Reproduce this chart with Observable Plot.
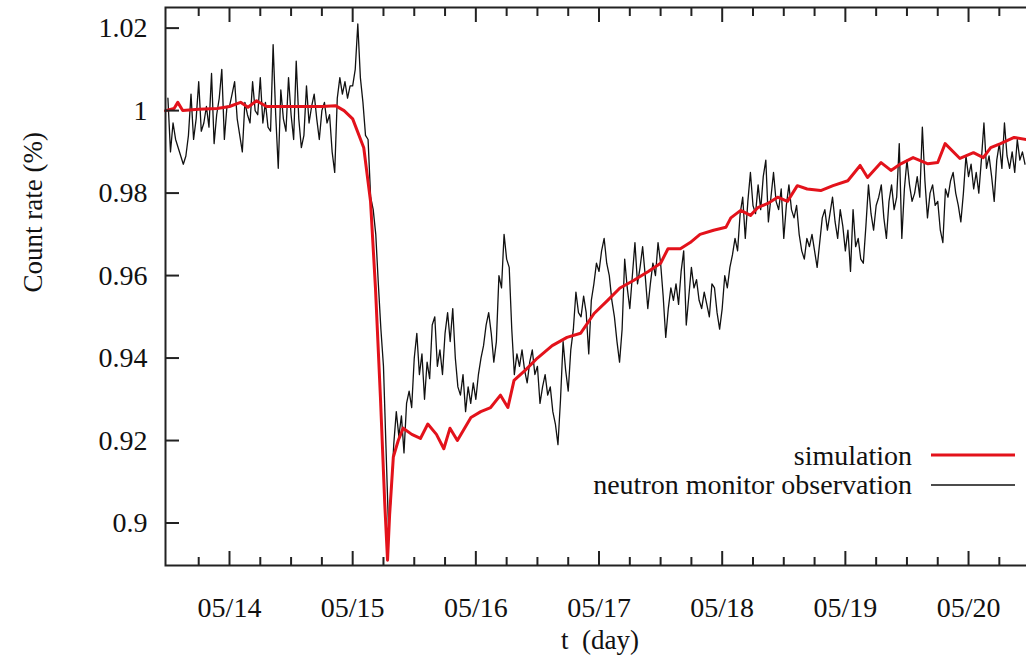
<!DOCTYPE html>
<html><head><meta charset="utf-8">
<script src="https://cdn.jsdelivr.net/npm/d3@7"></script>
<script src="https://cdn.jsdelivr.net/npm/@observablehq/plot@0.6"></script>
<style>
html,body{margin:0;padding:0;background:#fff;overflow:hidden;}
#wrap{position:relative;width:1026px;height:655px;overflow:hidden;}
#legend{position:absolute;left:0;top:0;pointer-events:none;}
</style></head><body><div id="wrap"></div>
<script>
// Observation: 30-minute samples, each array starts at the given day
const obsStep = 1 / 48;
const obs13 = [1.003, 0.990, 0.997, 0.993, 0.991, 0.989, 0.987, 0.989, 0.994, 1.004, 0.993, 0.998, 1.007, 0.995, 0.997, 1.001, 0.996, 1.009, 0.992, 0.999, 1.003, 1.010, 0.993, 1.001];
const obs14 = [1.001, 1.004, 1.007, 0.998, 0.994, 0.990, 1.002, 0.999, 0.997, 1.007, 1.000, 0.999, 1.008, 0.997, 1.002, 0.996, 0.995, 1.016, 0.999, 0.986, 1.005, 0.998, 0.995, 1.008, 0.999, 0.993, 1.012, 0.998, 0.991, 0.994, 1.006, 0.997, 1.001, 1.004, 0.998, 0.993, 1.000, 1.002, 0.997, 0.999, 0.990, 0.985, 1.003, 1.008, 1.004, 1.007, 1.003, 1.006];
const obs15 = [1.006, 1.010, 1.021, 1.008, 1.002, 0.994, 0.993, 0.979, 0.976, 0.970, 0.958, 0.947, 0.938, 0.918, 0.898, 0.907, 0.919, 0.927, 0.921, 0.926, 0.917, 0.929, 0.932, 0.928, 0.940, 0.946, 0.936, 0.941, 0.930, 0.939, 0.935, 0.948, 0.950, 0.938, 0.942, 0.936, 0.946, 0.951, 0.944, 0.952, 0.940, 0.933, 0.931, 0.936, 0.927, 0.933, 0.929, 0.934];
const obs16 = [0.930, 0.936, 0.940, 0.943, 0.948, 0.951, 0.946, 0.939, 0.944, 0.960, 0.957, 0.970, 0.964, 0.962, 0.947, 0.936, 0.941, 0.938, 0.942, 0.937, 0.934, 0.939, 0.942, 0.936, 0.938, 0.929, 0.933, 0.936, 0.931, 0.933, 0.927, 0.924, 0.919, 0.930, 0.944, 0.937, 0.932, 0.942, 0.947, 0.956, 0.951, 0.950, 0.955, 0.951, 0.941, 0.954, 0.958, 0.963];
const obs17 = [0.961, 0.966, 0.969, 0.963, 0.960, 0.954, 0.950, 0.944, 0.939, 0.947, 0.964, 0.957, 0.952, 0.960, 0.968, 0.958, 0.962, 0.967, 0.960, 0.952, 0.958, 0.963, 0.960, 0.968, 0.963, 0.955, 0.945, 0.952, 0.957, 0.954, 0.958, 0.953, 0.961, 0.966, 0.948, 0.955, 0.962, 0.957, 0.959, 0.954, 0.952, 0.956, 0.953, 0.950, 0.958, 0.957, 0.951, 0.947];
const obs18 = [0.952, 0.960, 0.957, 0.962, 0.965, 0.969, 0.966, 0.975, 0.979, 0.969, 0.978, 0.985, 0.977, 0.975, 0.982, 0.976, 0.984, 0.988, 0.973, 0.979, 0.985, 0.978, 0.976, 0.981, 0.969, 0.977, 0.982, 0.976, 0.974, 0.977, 0.970, 0.966, 0.964, 0.969, 0.967, 0.970, 0.966, 0.962, 0.968, 0.974, 0.976, 0.971, 0.975, 0.979, 0.973, 0.969, 0.976, 0.972];
const obs19 = [0.966, 0.971, 0.961, 0.976, 0.967, 0.969, 0.964, 0.963, 0.972, 0.982, 0.975, 0.971, 0.977, 0.979, 0.982, 0.974, 0.969, 0.978, 0.982, 0.976, 0.979, 0.992, 0.969, 0.981, 0.988, 0.982, 0.978, 0.980, 0.984, 0.979, 0.996, 0.983, 0.974, 0.980, 0.982, 0.977, 0.978, 0.971, 0.968, 0.981, 0.979, 0.983, 0.985, 0.980, 0.977, 0.973, 0.980, 0.989];
const obs20 = [0.984, 0.987, 0.981, 0.985, 0.980, 0.988, 0.997, 0.986, 0.989, 0.984, 0.978, 0.988, 0.992, 0.986, 0.997, 0.989, 0.986, 0.990, 0.985, 0.993, 0.988, 0.990, 0.987];
const obsBlocks = [[13.5, obs13], [14, obs14], [15, obs15], [16, obs16], [17, obs17], [18, obs18], [19, obs19], [20, obs20]];

// Simulation (day, value)
const simDay = [13.48, 13.55, 13.58, 13.62, 13.75, 13.9, 14.0, 14.09, 14.15, 14.22, 14.3, 14.45, 14.6, 14.75, 14.86, 14.93, 15.0, 15.09, 15.145, 15.185, 15.226, 15.26, 15.283, 15.3, 15.33, 15.37, 15.41, 15.48, 15.55, 15.61, 15.68, 15.74, 15.79, 15.85, 15.96, 16.04, 16.12, 16.2, 16.26, 16.31, 16.4, 16.5, 16.62, 16.74, 16.85, 16.96, 17.07, 17.17, 17.28, 17.4, 17.5, 17.56, 17.66, 17.74, 17.82, 17.93, 18.03, 18.07, 18.15, 18.23, 18.29, 18.37, 18.45, 18.53, 18.61, 18.69, 18.8, 18.9, 19.02, 19.12, 19.18, 19.29, 19.37, 19.45, 19.55, 19.67, 19.75, 19.81, 19.93, 20.04, 20.12, 20.18, 20.26, 20.37, 20.47];
const simVal = [1.000, 1.0005, 1.002, 1.000, 1.0003, 1.0005, 1.001, 1.002, 1.0008, 1.0024, 1.001, 1.001, 1.001, 1.001, 1.0012, 1.0, 0.998, 0.991, 0.978, 0.957, 0.930, 0.905, 0.891, 0.902, 0.916, 0.920, 0.923, 0.9215, 0.9205, 0.924, 0.9215, 0.918, 0.923, 0.920, 0.9256, 0.927, 0.928, 0.931, 0.928, 0.9346, 0.937, 0.940, 0.943, 0.945, 0.946, 0.9508, 0.954, 0.957, 0.9588, 0.961, 0.963, 0.9665, 0.9665, 0.968, 0.970, 0.971, 0.9717, 0.974, 0.9758, 0.9746, 0.9765, 0.9775, 0.979, 0.978, 0.9818, 0.981, 0.9806, 0.9818, 0.983, 0.9867, 0.9838, 0.9874, 0.9855, 0.9871, 0.9886, 0.9871, 0.9874, 0.992, 0.9884, 0.9898, 0.9886, 0.991, 0.992, 0.9935, 0.993];

// Ticks and texts
const xTicks = [14, 15, 16, 17, 18, 19, 20];
const xTickLabels = ["05/14", "05/15", "05/16", "05/17", "05/18", "05/19", "05/20"];
const xMinor = [13.75, 14.25, 14.5, 14.75, 15.25, 15.5, 15.75, 16.25, 16.5, 16.75, 17.25, 17.5, 17.75, 18.25, 18.5, 18.75, 19.25, 19.5, 19.75, 20.25];
const yTicks = [0.9, 0.92, 0.94, 0.96, 0.98, 1.0, 1.02];
const yTickLabels = ["0.9", "0.92", "0.94", "0.96", "0.98", "1", "1.02"];
const seriesNames = ["simulation", "neutron monitor observation"];
const yTitle = "Count rate (%)";
const xTitle = "t  (day)";

const obs = [];
for (const [start, vals] of obsBlocks) vals.forEach((v, i) => obs.push({t: start + i * obsStep, v}));
const sim = simDay.map((t, i) => ({t, v: simVal[i]}));

const FONT = "Liberation Serif, DejaVu Serif, serif";
const RED = "#e3121b";
const blank = () => "";

const chart = Plot.plot({
  width: 1034, height: 655,
  marginLeft: 165, marginRight: 6, marginTop: 7, marginBottom: 90,
  style: {fontFamily: FONT, fontSize: "28px", background: "#fff", color: "#111", maxWidth: "none"},
  x: {domain: [13.4804, 20.4868]},
  y: {domain: [0.8897, 1.025]},
  marks: [
    Plot.line(obs, {x: "t", y: "v", stroke: "#111", strokeWidth: 1.3}),
    Plot.line(sim, {x: "t", y: "v", stroke: RED, strokeWidth: 3}),
    Plot.frame({stroke: "#222", strokeWidth: 2}),
    Plot.axisY(yTicks, {anchor: "left", tickSize: -14, tickPadding: 32, strokeWidth: 2, stroke: "#222",
      tickFormat: d => yTickLabels[yTicks.indexOf(d)], label: null}),
    Plot.axisX(xTicks, {anchor: "bottom", tickSize: -14, tickPadding: 46, strokeWidth: 2, stroke: "#222",
      tickFormat: d => xTickLabels[xTicks.indexOf(d)], label: null}),
    Plot.axisX(xMinor, {anchor: "bottom", tickSize: -8, strokeWidth: 2, stroke: "#222", tickFormat: blank, label: null}),
    Plot.axisX(xTicks, {anchor: "top", tickSize: -14, strokeWidth: 2, stroke: "#222", tickFormat: blank, label: null}),
    Plot.axisX(xMinor, {anchor: "top", tickSize: -8, strokeWidth: 2, stroke: "#222", tickFormat: blank, label: null}),
    Plot.text([yTitle], {frameAnchor: "left", dx: -132, dy: 6, rotate: -90, lineAnchor: "middle", fill: "#111", fontSize: 27}),
    Plot.text([xTitle], {frameAnchor: "bottom", dx: 3, dy: 75, lineAnchor: "middle", fill: "#111", fontSize: 27})
  ]
});
chart.style.maxWidth = "none";
chart.style.width = "1034px";
chart.style.height = "655px";
const wrap = document.getElementById("wrap");
wrap.appendChild(chart);

// Legend overlay (inside the plot, lower right)
const ns = "http://www.w3.org/2000/svg";
const leg = document.createElementNS(ns, "svg");
leg.setAttribute("id", "legend");
leg.setAttribute("width", 1026); leg.setAttribute("height", 655);
const rows = [{name: seriesNames[0], color: RED, w: 3, ty: 465, ly: 455},
              {name: seriesNames[1], color: "#111", w: 1.3, ty: 494, ly: 485}];
for (const r of rows) {
  const t = document.createElementNS(ns, "text");
  t.setAttribute("x", 912); t.setAttribute("y", r.ty);
  t.setAttribute("text-anchor", "end");
  t.setAttribute("font-size", 28);
  t.setAttribute("font-family", FONT);
  t.setAttribute("fill", "#111");
  t.textContent = r.name;
  leg.appendChild(t);
  const l = document.createElementNS(ns, "line");
  l.setAttribute("x1", 931); l.setAttribute("x2", 1015);
  l.setAttribute("y1", r.ly); l.setAttribute("y2", r.ly);
  l.setAttribute("stroke", r.color); l.setAttribute("stroke-width", r.w);
  leg.appendChild(l);
}
wrap.appendChild(leg);
</script></body></html>
